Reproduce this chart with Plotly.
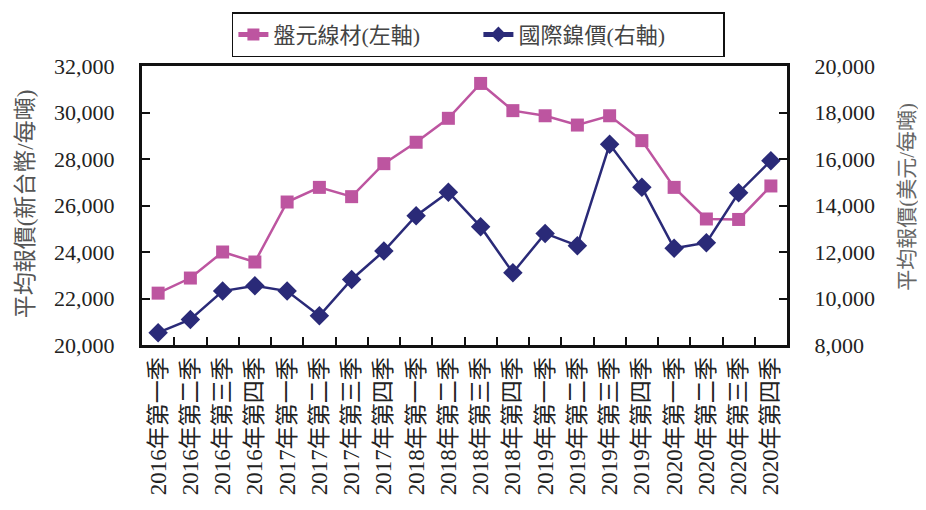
import plotly.graph_objects as go

categories = [
    "2016年第一季", "2016年第二季", "2016年第三季", "2016年第四季",
    "2017年第一季", "2017年第二季", "2017年第三季", "2017年第四季",
    "2018年第一季", "2018年第二季", "2018年第三季", "2018年第四季",
    "2019年第一季", "2019年第二季", "2019年第三季", "2019年第四季",
    "2020年第一季", "2020年第二季", "2020年第三季", "2020年第四季",
]
wire_rod = [22230, 22880, 24000, 23570, 26150, 26780, 26380, 27800, 28720, 29750,
            31250, 30080, 29860, 29460, 29860, 28790, 26780, 25420, 25400, 26840]
nickel = [8530, 9100, 10320, 10550, 10320, 9260, 10820, 12040, 13560, 14570,
          13090, 11110, 12800, 12270, 16630, 14780, 12160, 12400, 14550, 15930]
left_ticks = [20000, 22000, 24000, 26000, 28000, 30000, 32000]
right_ticks = [8000, 10000, 12000, 14000, 16000, 18000, 20000]

FONT = "Liberation Serif, Noto Sans CJK TC"
PINK = "#BD55A0"
NAVY = "#2A2A78"

fig = go.Figure()
fig.add_trace(go.Scatter(
    x=categories, y=wire_rod, name="盤元線材(左軸)", mode="lines+markers",
    line=dict(color=PINK, width=2.5),
    marker=dict(symbol="square", size=13, color=PINK),
))
fig.add_trace(go.Scatter(
    x=categories, y=nickel, name="國際鎳價(右軸)", mode="lines+markers",
    line=dict(color=NAVY, width=2.5),
    marker=dict(symbol="diamond", size=15, color=NAVY),
    yaxis="y2",
))

fig.update_layout(
    template="none",
    width=926, height=510,
    margin=dict(l=134, r=147, t=58, b=173, autoexpand=False),
    paper_bgcolor="white", plot_bgcolor="white",
    font=dict(family=FONT, size=21, color="#222"),
    showlegend=True,
    legend=dict(
        orientation="h", xref="container", yref="container",
        x=0.508, xanchor="center", y=0.992, yanchor="top",
        bordercolor="#111", borderwidth=1.5, bgcolor="white",
        font=dict(family=FONT, size=22, color="#444"),
        itemsizing="constant", entrywidth=200, entrywidthmode="pixels",
    ),
    xaxis=dict(
        type="category", range=[-0.5, 19.5], automargin=False,
        showline=True, linecolor="#111", linewidth=3, mirror=True,
        ticks="inside", tickson="boundaries", ticklen=8, tickcolor="#111", tickwidth=1.5,
        tickangle=-90, showgrid=False, zeroline=False,
        tickfont=dict(family=FONT, size=23, color="#222"),
    ),
    yaxis=dict(
        range=[20000, 32000], tickvals=left_ticks, automargin=False,
        tickformat=",d",
        showline=True, linecolor="#111", linewidth=3, mirror=True,
        ticks="inside", ticklen=8, tickcolor="#111", tickwidth=1.5,
        showgrid=False, zeroline=False, ticklabelstandoff=20,
        tickfont=dict(family=FONT, size=22, color="#222"),
    ),
    yaxis2=dict(
        range=[8000, 20000], tickvals=right_ticks, tickformat=",d", automargin=False,
        overlaying="y", side="right",
        showline=True, linecolor="#111", linewidth=3,
        ticks="inside", ticklen=8, tickcolor="#111", tickwidth=1.5,
        showgrid=False, zeroline=False, ticklabelstandoff=20,
        tickfont=dict(family=FONT, size=22, color="#222"),
    ),
    annotations=[
        dict(text="平均報價(新台幣/每噸)", xref="paper", yref="paper",
             x=-0.181, y=0.505, xanchor="center", yanchor="middle",
             showarrow=False, textangle=-90,
             font=dict(family=FONT, size=23, color="#555")),
        dict(text="平均報價(美元/每噸)", xref="paper", yref="paper",
             x=1.187, y=0.53, xanchor="center", yanchor="middle",
             showarrow=False, textangle=-90,
             font=dict(family=FONT, size=21, color="#666")),
    ],
)

fig.write_html("out.html")
